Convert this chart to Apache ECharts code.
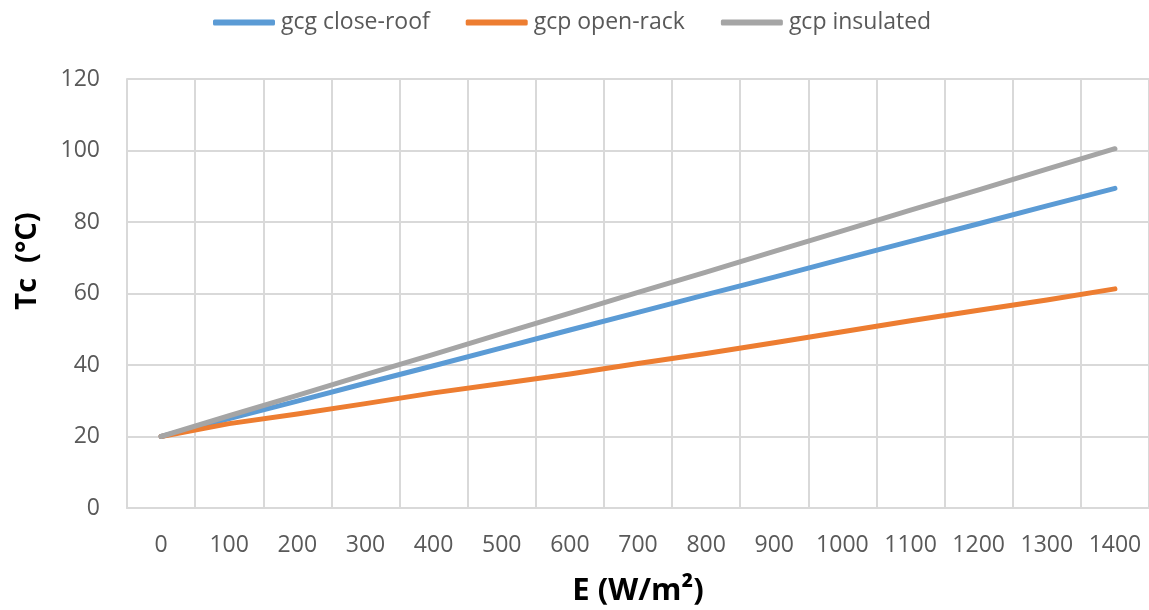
<!DOCTYPE html>
<html>
<head>
<meta charset="utf-8">
<script src="https://cdn.jsdelivr.net/npm/echarts@6/dist/echarts.min.js"></script>
<style>html,body{margin:0;padding:0;background:#fff;}#c{width:1149px;height:610px;}</style>
</head>
<body>
<div id="c"></div>
<script>
const categories = ['0','100','200','300','400','500','600','700','800','900','1000','1100','1200','1300','1400'];
const closeRoof = [20, 25.0, 29.9, 34.9, 39.8, 44.8, 49.8, 54.7, 59.7, 64.6, 69.6, 74.6, 79.5, 84.5, 89.4];
const openRack = [20, 23.6, 26.3, 29.2, 32.2, 34.8, 37.5, 40.4, 43.2, 46.2, 49.3, 52.4, 55.3, 58.2, 61.3];
const insulated = [20, 25.8, 31.5, 37.3, 43.0, 48.8, 54.5, 60.3, 66.0, 71.8, 77.5, 83.3, 89.0, 94.8, 100.5];
const seriesNames = ['gcg close-roof', 'gcp open-rack', 'gcp insulated'];

const FONT = '"Open Sans", "Noto Sans", sans-serif';
const gridColor = '#D9D9D9';
const chart = echarts.init(document.getElementById('c'));
const mk = (name, data, color) => ({
  name, type: 'line', data, symbol: 'none', smooth: false,
  lineStyle: { color, width: 5, cap: 'round', join: 'round' },
  itemStyle: { color },
  emphasis: { disabled: true }
});
chart.setOption({
  animation: false,
  legend: {
    top: 6, left: 208,
    itemWidth: 62, itemHeight: 6, itemGap: 36,
    icon: 'roundRect',
    textStyle: { fontFamily: FONT, fontSize: 23, color: '#595959', padding: [0, 0, 0, 1] },
    data: seriesNames
  },
  grid: { left: 127, top: 79, width: 1022, height: 429, containLabel: false, outerBoundsMode: 'none' },
  xAxis: {
    type: 'category', data: categories, boundaryGap: true,
    axisLine: { show: true, lineStyle: { color: gridColor, width: 2 } },
    axisTick: { show: false },
    axisLabel: { fontFamily: FONT, fontSize: 23, color: '#595959', margin: 26, interval: 0 },
    splitLine: { show: true, interval: 0, lineStyle: { color: gridColor, width: 2 } },
    name: 'E (W/m²)', nameLocation: 'middle', nameGap: 68,
    nameTextStyle: { fontFamily: FONT, fontSize: 31, fontWeight: 'bold', color: '#000' }
  },
  yAxis: {
    type: 'value', min: 0, max: 120, interval: 20,
    axisLine: { show: true, lineStyle: { color: gridColor, width: 2 } },
    axisTick: { show: false },
    axisLabel: { fontFamily: FONT, fontSize: 23, color: '#595959', margin: 27 },
    splitLine: { show: true, lineStyle: { color: gridColor, width: 2 } }
  },
  graphic: [{
    type: 'text', x: 28, y: 261, rotation: Math.PI / 2,
    style: { text: 'Tc  (°C)', fontFamily: FONT, fontSize: 29, fontWeight: 'bold', fill: '#000', align: 'center', verticalAlign: 'middle' }
  }],
  series: [
    mk(seriesNames[0], closeRoof, '#5B9BD5'),
    mk(seriesNames[1], openRack, '#ED7D31'),
    mk(seriesNames[2], insulated, '#A5A5A5')
  ]
});
</script>
</body>
</html>
